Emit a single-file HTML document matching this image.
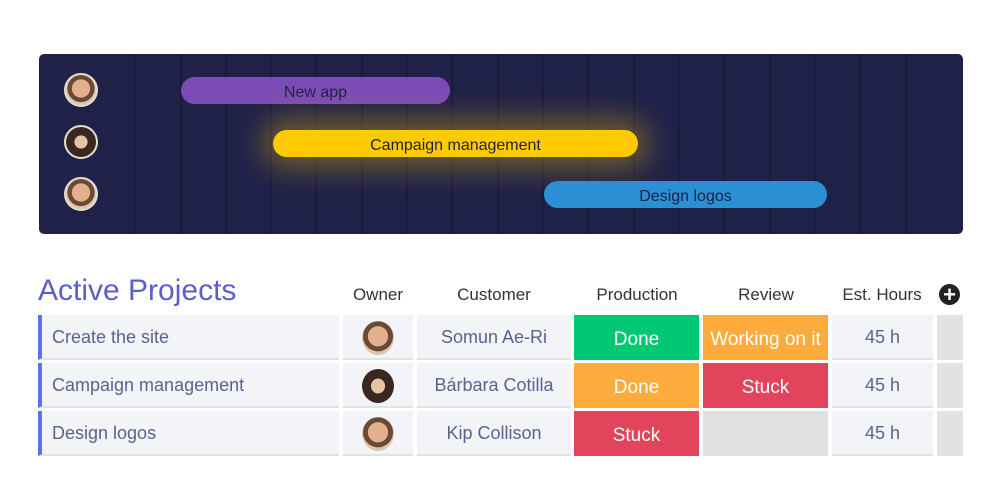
<!DOCTYPE html>
<html><head><style>
*{margin:0;padding:0;box-sizing:border-box}
body{width:1000px;height:500px;background:#fff;position:relative;overflow:hidden;font-family:"Liberation Sans",sans-serif}
.a{position:absolute}
.panel{left:39px;top:54px;width:924px;height:180px;background:#1f2148;border-radius:5px;overflow:hidden}
.vl{position:absolute;top:0;width:2px;height:180px;background:#191a3b}
.bar{position:absolute;border-radius:14px;text-align:center;font-size:16px;color:#1f2148;padding-top:2px}
.av{position:absolute;width:34px;height:34px;border-radius:50%;background:radial-gradient(circle at 50% 45%,#e2b08e 0 40%,#6b4a35 42% 60%,#d8c9b0 62%);border:2px solid #e8dccc}
.av.f{background:radial-gradient(ellipse at 50% 50%,#e8c2a6 0 30%,#3a2820 32% 70%,#ece6e0 72%)}
.cell{position:absolute;background:#f3f4f7;border-bottom:2px solid #e0e2e8;color:#5c6190;font-size:18px;display:flex;align-items:center;padding-top:2px}
.c{justify-content:center}
.st{position:absolute;color:#fff;font-size:19px;display:flex;align-items:center;justify-content:center;padding-top:5px}
.h{position:absolute;top:285px;font-size:17px;color:#333;transform:translateX(-50%)}
.sav{position:absolute;width:32px;height:34px;border-radius:50%;background:radial-gradient(circle at 50% 45%,#e2b08e 0 40%,#6b4a35 42% 60%,#d8c9b0 62%)}
.sav.f{background:radial-gradient(ellipse at 50% 50%,#e8c2a6 0 30%,#3a2820 32% 70%,#ece6e0 72%)}
</style></head><body>
<div class="a panel">
<div class="vl" style="left:95px"></div><div class="vl" style="left:141px"></div><div class="vl" style="left:186px"></div><div class="vl" style="left:231px"></div><div class="vl" style="left:276px"></div><div class="vl" style="left:322px"></div><div class="vl" style="left:367px"></div><div class="vl" style="left:412px"></div><div class="vl" style="left:458px"></div><div class="vl" style="left:503px"></div><div class="vl" style="left:548px"></div><div class="vl" style="left:594px"></div><div class="vl" style="left:639px"></div><div class="vl" style="left:684px"></div><div class="vl" style="left:730px"></div><div class="vl" style="left:775px"></div><div class="vl" style="left:820px"></div><div class="vl" style="left:866px"></div>
<div class="av" style="left:25px;top:19px"></div>
<div class="av f" style="left:25px;top:71px"></div>
<div class="av" style="left:25px;top:123px"></div>
<div class="bar" style="left:142px;top:23px;width:269px;height:27px;line-height:27px;background:#7b4bb5">New app</div>
<div class="bar" style="left:234px;top:76px;width:365px;height:27px;line-height:27px;background:#ffcb00;box-shadow:0 0 30px 12px rgba(255,203,0,0.35)">Campaign management</div>
<div class="bar" style="left:505px;top:127px;width:283px;height:27px;line-height:27px;background:#2a8fd3">Design logos</div>
</div>

<div class="a" style="left:38px;top:274px;font-size:30px;color:#5b5fc7">Active Projects</div>
<div class="h" style="left:378px">Owner</div>
<div class="h" style="left:494px">Customer</div>
<div class="h" style="left:637px">Production</div>
<div class="h" style="left:766px">Review</div>
<div class="h" style="left:882px">Est. Hours</div>
<div class="a" style="left:939px;top:284px;width:21px;height:21px;border-radius:50%;background:#222;color:#fff;font-size:22px;font-weight:bold;line-height:21px;text-align:center">+</div>

<div class="cell" style="left:38px;top:315px;width:301px;height:45px;border-left:4px solid #5b72e8;padding-left:10px">Create the site</div>
<div class="cell c" style="left:343px;top:315px;width:70px;height:45px"><div class="sav" style="position:static"></div></div>
<div class="cell c" style="left:417px;top:315px;width:154px;height:45px">Somun Ae-Ri</div>
<div class="st" style="left:574px;top:315px;width:125px;height:45px;background:#00c875">Done</div>
<div class="st" style="left:703px;top:315px;width:125px;height:45px;background:#fdab3d">Working on it</div>
<div class="cell c" style="left:832px;top:315px;width:101px;height:45px">45 h</div>
<div class="a" style="left:937px;top:315px;width:26px;height:45px;background:#e2e2e2"></div>

<div class="cell" style="left:38px;top:363px;width:301px;height:45px;border-left:4px solid #5b72e8;padding-left:10px">Campaign management</div>
<div class="cell c" style="left:343px;top:363px;width:70px;height:45px"><div class="sav f" style="position:static"></div></div>
<div class="cell c" style="left:417px;top:363px;width:154px;height:45px">Bárbara Cotilla</div>
<div class="st" style="left:574px;top:363px;width:125px;height:45px;background:#fdab3d">Done</div>
<div class="st" style="left:703px;top:363px;width:125px;height:45px;background:#e2445c">Stuck</div>
<div class="cell c" style="left:832px;top:363px;width:101px;height:45px">45 h</div>
<div class="a" style="left:937px;top:363px;width:26px;height:45px;background:#e2e2e2"></div>

<div class="cell" style="left:38px;top:411px;width:301px;height:45px;border-left:4px solid #5b72e8;padding-left:10px">Design logos</div>
<div class="cell c" style="left:343px;top:411px;width:70px;height:45px"><div class="sav" style="position:static"></div></div>
<div class="cell c" style="left:417px;top:411px;width:154px;height:45px">Kip Collison</div>
<div class="st" style="left:574px;top:411px;width:125px;height:45px;background:#e2445c">Stuck</div>
<div class="a" style="left:703px;top:411px;width:125px;height:45px;background:#e0e0e0"></div>
<div class="cell c" style="left:832px;top:411px;width:101px;height:45px">45 h</div>
<div class="a" style="left:937px;top:411px;width:26px;height:45px;background:#e2e2e2"></div>
</body></html>
